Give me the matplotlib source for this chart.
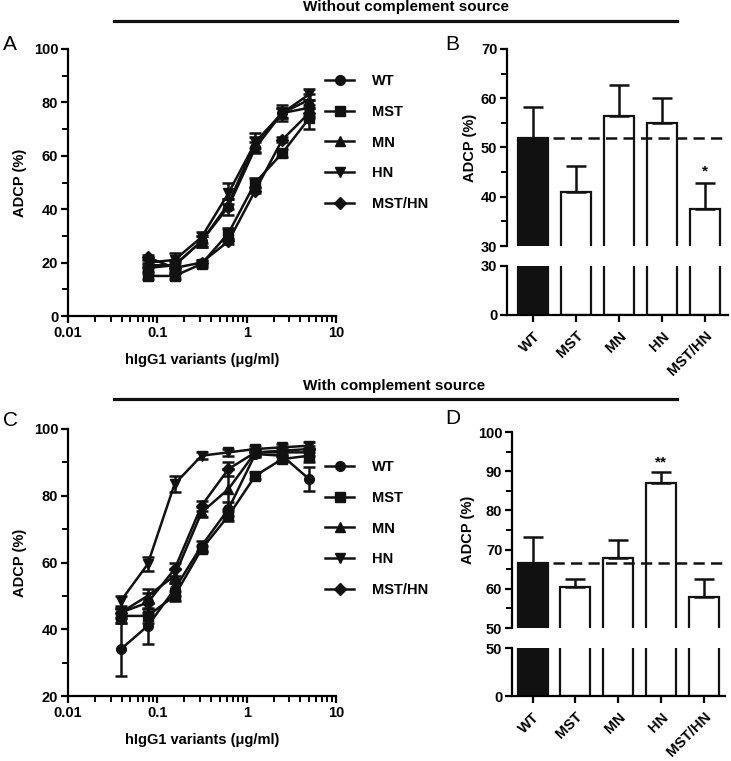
import matplotlib
matplotlib.use("Agg")
import matplotlib.pyplot as plt
from matplotlib.lines import Line2D
from matplotlib.ticker import FixedLocator, NullFormatter, FixedFormatter, LogLocator
import numpy as np

plt.rcParams['font.family'] = ['Liberation Sans', 'DejaVu Sans']
plt.rcParams['font.weight'] = 'bold'

W, H = 731, 761

# ---------------- data ----------------
variants = ["WT", "MST", "MN", "HN", "MST/HN"]
markers = ["o", "s", "^", "v", "D"]

# Panel A: without complement source (dose response)
conc_A = [0.078, 0.156, 0.3125, 0.625, 1.25, 2.5, 5]
A_WT = [18, 19, 28, 41, 63, 76, 78]
A_MST = [15, 15, 19.5, 31, 50, 61, 74]
A_MN = [19, 19, 28, 42, 65, 76, 81]
A_HN = [20, 21, 29.5, 46, 65, 76, 83]
A_MSTHN = [22, 18, 20, 28, 47, 66, 76]
A_WT_err = [1, 1.5, 2, 3, 2, 2, 3]
A_MST_err = [1, 1, 1, 2, 1.5, 1.5, 4]
A_MN_err = [1, 2, 2, 2, 2, 2, 2]
A_HN_err = [1.5, 2.5, 2, 4, 3.5, 3, 2]
A_MSTHN_err = [1, 2, 1, 1, 1, 1, 2]

# Panel C: with complement source (dose response)
conc_C = [0.039, 0.078, 0.156, 0.3125, 0.625, 1.25, 2.5, 5]
C_WT = [34, 41, 52, 65, 76, 92.5, 92, 85]
C_MST = [44, 44, 50, 64, 74, 86, 91, 92]
C_MN = [45, 50, 56, 75, 82, 93, 93, 93]
C_HN = [48.5, 59.5, 83.5, 92, 93, 94, 94.5, 95]
C_MSTHN = [45, 48, 58, 77, 88, 93, 93.5, 94]
C_WT_err = [8, 5.5, 2, 1.5, 2, 1, 1.5, 3.5]
C_MST_err = [2, 2, 1.5, 1, 1.5, 1, 1, 2]
C_MN_err = [1.5, 2, 2, 1.5, 6, 1, 1, 1]
C_HN_err = [1.5, 2, 2.5, 1, 1, 1, 1, 1]
C_MSTHN_err = [1.5, 3, 2, 1.5, 2, 1, 1, 1]

# Panel B / D bars
B_vals = [52, 41, 56.3, 54.9, 37.6]
B_err = [6.3, 5.3, 6.4, 5.2, 5.2]
D_vals = [66.6, 60.4, 67.9, 87.0, 57.9]
D_err = [6.5, 2.1, 4.6, 2.9, 4.6]

x_tick_vals = [0.01, 0.1, 1, 10]
x_tick_labels = ["0.01", "0.1", "1", "10"]

TICK_FS = 10.5
LAB_FS = 10.5


def rect(x0, y0, x1, y1):
    return [x0 / W, 1 - y1 / H, (x1 - x0) / W, (y1 - y0) / H]


fig = plt.figure(figsize=(W / 100, H / 100), dpi=100)


def style_axes(ax):
    for s in ["top", "right"]:
        ax.spines[s].set_visible(False)
    for s in ["left", "bottom"]:
        ax.spines[s].set_linewidth(1.6)
    ax.tick_params(which="major", length=5, width=1.6, labelsize=TICK_FS, pad=2)
    ax.tick_params(which="minor", length=4, width=1.4)
    for lab in ax.get_xticklabels() + ax.get_yticklabels():
        lab.set_fontweight("bold")


def line_panel(r, conc, series, errs, ylim, ymaj, ymin, leg_top):
    ax = fig.add_axes(rect(*r))
    for vals, err, m in zip(series, errs, markers):
        ms = 6 if m == "D" else 7
        ax.errorbar(conc, vals, yerr=err, fmt="-" + m, color="#111111", lw=1.8,
                    ms=ms, capsize=4, capthick=1.8, elinewidth=1.8,
                    clip_on=False, zorder=3)
    ax.set_xscale("log")
    ax.set_xlim(0.01, 10)
    ax.set_ylim(*ylim)
    ax.xaxis.set_major_locator(FixedLocator(x_tick_vals))
    ax.xaxis.set_major_formatter(FixedFormatter(x_tick_labels))
    ax.xaxis.set_minor_locator(LogLocator(base=10, subs=np.arange(2, 10)))
    ax.xaxis.set_minor_formatter(NullFormatter())
    ax.set_yticks(ymaj)
    ax.yaxis.set_minor_locator(FixedLocator(ymin))
    style_axes(ax)
    ax.set_ylabel("ADCP (%)", fontsize=LAB_FS, fontweight="bold")
    ax.yaxis.set_label_coords(-0.153, 0.5)
    ax.set_xlabel("hIgG1 variants (\u03bcg/ml)", fontsize=LAB_FS, fontweight="bold")
    ax.xaxis.set_label_coords(0.5, -0.138)
    handles = [Line2D([], [], color="#111111", marker=m, lw=1.8,
                      ms=(6 if m == "D" else 7)) for m in markers]
    ax.legend(handles, variants, loc="upper left",
              bbox_to_anchor=(325 / W, 1 - leg_top / H),
              bbox_transform=fig.transFigure, frameon=False,
              handlelength=2.0, handletextpad=1.2, labelspacing=1.15,
              borderaxespad=0, borderpad=0,
              prop={"size": 10.5, "weight": "bold"})
    return ax


line_panel((68, 49, 336, 316), conc_A,
           [A_WT, A_MST, A_MN, A_HN, A_MSTHN],
           [A_WT_err, A_MST_err, A_MN_err, A_HN_err, A_MSTHN_err],
           (0, 100), [0, 20, 40, 60, 80, 100], [10, 30, 50, 70, 90], 74)

line_panel((68, 429, 336, 696), conc_C,
           [C_WT, C_MST, C_MN, C_HN, C_MSTHN],
           [C_WT_err, C_MST_err, C_MN_err, C_HN_err, C_MSTHN_err],
           (20, 100), [20, 40, 60, 80, 100], [30, 50, 70, 90], 460)


def bar_panel(x0, x1, ytop0, ytop1, ybot0, ybot1, vals, errs, top_lim, top_maj,
              top_min, bot_lim, xlim, ylab_x, star, star_idx, star_y):
    xs = np.arange(len(variants))
    colors = ["#111111"] + ["white"] * (len(variants) - 1)
    bw = 0.70
    axt = fig.add_axes(rect(x0, ytop0, x1, ytop1))
    axb = fig.add_axes(rect(x0, ybot0, x1, ybot1))
    for ax in (axt, axb):
        ax.bar(xs, vals, width=bw, color=colors, edgecolor="#111111", lw=1.6, zorder=2)
        ax.set_xlim(*xlim)
        style_axes(ax)
    axt.errorbar(xs, vals, yerr=[np.zeros(len(vals)), errs], fmt="none",
                 ecolor="#111111", elinewidth=1.8, capsize=7.5, capthick=1.8, zorder=3)
    axt.hlines(vals[0], xs[0] - bw / 2, xlim[1], colors="#111111", lw=1.8,
               linestyles=(0, (4.5, 2.5)), zorder=4)
    axt.set_ylim(*top_lim)
    axt.set_yticks(top_maj)
    axt.yaxis.set_minor_locator(FixedLocator(top_min))
    axt.spines["bottom"].set_visible(False)
    axt.tick_params(axis="x", which="both", bottom=False, labelbottom=False)
    axt.text(xs[star_idx], star_y, star, ha="center", va="center",
             fontsize=11, fontweight="bold")
    axt.set_ylabel("ADCP (%)", fontsize=LAB_FS, fontweight="bold")
    axt.yaxis.set_label_coords(ylab_x, 0.5)

    axb.set_ylim(*bot_lim)
    axb.set_yticks(list(bot_lim))
    axb.set_xticks(xs)
    axb.set_xticklabels(variants, rotation=45, ha="right", va="top",
                        rotation_mode="anchor", fontsize=TICK_FS, fontweight="bold")
    axb.tick_params(axis="x", pad=5)


bar_panel(507, 728, 49, 246, 266, 315, B_vals, B_err, (30, 70),
          [30, 40, 50, 60, 70], [35, 45, 55, 65], (0, 30), (-0.61, 4.53),
          -0.138, "*", 4, 45.2)

bar_panel(512, 725, 432, 628, 648, 696, D_vals, D_err, (50, 100),
          [50, 60, 70, 80, 90, 100], [55, 65, 75, 85, 95], (0, 50), (-0.48, 4.5),
          -0.176, "**", 3, 92.3)

# Section titles and lines
fig.text(303 / W, 1 - 7 / H, "Without complement source", ha="left", va="center",
         fontsize=11, fontweight="bold")
fig.add_artist(Line2D([114 / W, 677 / W], [1 - 20.5 / H] * 2, lw=2.3, color="#111111"))
fig.text(303 / W, 1 - 386 / H, "With complement source", ha="left", va="center",
         fontsize=11, fontweight="bold")
fig.add_artist(Line2D([114 / W, 677 / W], [1 - 399 / H] * 2, lw=2.3, color="#111111"))

# Panel letters
for lbl, x, y in [("A", 3, 45), ("B", 445, 45), ("C", 3, 420), ("D", 445, 418)]:
    fig.text(x / W, 1 - y / H, lbl, ha="left", va="center", fontsize=15,
             fontweight="normal")

fig.savefig("out.png", dpi=100)
